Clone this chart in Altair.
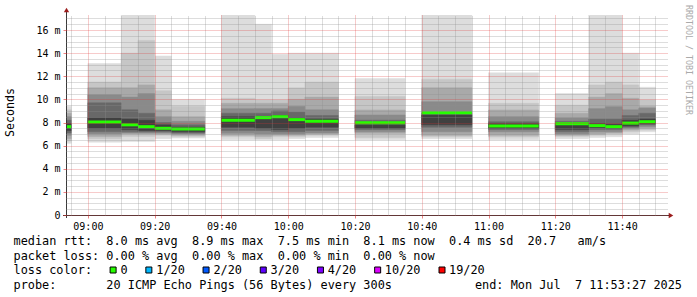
import altair as alt
import pandas as pd

# ---------------- data ----------------
seg_start = ["08:50", "09:00", "09:10", "09:15", "09:20", "09:25", "09:40", "09:50", "09:55", "10:00",
             "10:05", "10:20", "10:40", "11:00", "11:20", "11:30", "11:35", "11:40", "11:45"]
seg_end = ["08:55", "09:10", "09:15", "09:20", "09:25", "09:35", "09:50", "09:55", "10:00", "10:05",
           "10:15", "10:35", "10:55", "11:15", "11:30", "11:35", "11:40", "11:45", "11:50"]
median_ms = [7.64, 8.05, 7.8, 7.64, 7.5, 7.44, 8.2, 8.42, 8.5, 8.25,
             8.1, 7.97, 8.85, 7.7, 7.9, 7.73, 7.64, 7.95, 8.07]

# smoke bands (outermost first), low / high edge in ms
band1_lo = [6.2, 6.3, 6.35, 6.35, 6.6, 6.65, 6.5, 6.5, 6.5, 6.6, 6.7, 6.5, 6.6, 6.5, 6.6, 6.7, 6.77, 7.0, 7.2]
band1_hi = [9.4, 13.1, 17.3, 17.3, 13.75, 10.0, 17.3, 16.5, 13.9, 14.0, 14.0, 11.8, 17.3, 12.3, 10.5, 17.3, 17.3, 14.0, 11.05]
band2_lo = [6.4, 6.6, 6.8, 6.8, 6.9, 6.8, 6.77, 6.6, 6.77, 6.77, 6.9, 6.7, 6.77, 6.75, 6.8, 6.9, 7.0, 7.2, 7.35]
band2_hi = [9.1, 11.5, 14.0, 15.1, 10.75, 9.4, 10.1, 9.95, 9.95, 11.0, 11.5, 10.25, 11.75, 9.66, 9.5, 11.25, 11.5, 11.25, 9.95]
band3_lo = [6.6, 6.8, 7.0, 7.0, 7.0, 6.9, 6.9, 6.8, 6.9, 6.9, 7.0, 7.07, 6.9, 6.9, 6.9, 7.0, 7.1, 7.35, 7.5]
band3_hi = [8.8, 11.0, 11.0, 11.25, 9.1, 8.5, 9.66, 9.66, 9.66, 10.0, 10.2, 9.08, 11.0, 9.08, 8.8, 10.2, 10.5, 10.1, 9.37]
band4_lo = [6.9, 7.0, 7.1, 7.1, 7.1, 7.0, 7.07, 7.0, 7.0, 7.0, 7.1, 7.2, 7.2, 7.2, 7.0, 7.2, 7.2, 7.5, 7.64]
band4_hi = [8.5, 10.4, 10.2, 10.5, 8.5, 8.1, 9.2, 9.2, 9.2, 9.4, 9.1, 8.65, 9.8, 8.5, 8.4, 9.2, 9.37, 9.1, 9.25]
band5_lo = [7.1, 7.2, 7.2, 7.2, 7.2, 7.1, 7.3, 7.3, 7.2, 7.2, 7.3, 7.4, 7.6, 7.4, 7.2, 7.4, 7.4, 7.6, 7.8]
band5_hi = [8.2, 9.7, 9.1, 8.8, 8.0, 7.8, 8.8, 8.8, 9.0, 8.9, 8.6, 8.2, 8.8, 8.07, 8.1, 8.3, 8.3, 8.6, 8.8]
band6_lo = [7.3, 7.5, 7.4, 7.3, 7.3, 7.2, 7.6, 7.5, 7.4, 7.5, 7.6, 7.5, 7.8, 7.5, 7.4, 7.55, 7.5, 7.7, 7.9]
band6_hi = [7.9, 8.4, 8.3, 8.2, 7.8, 7.6, 8.5, 8.4, 8.6, 8.4, 8.3, 7.8, 8.65, 7.9, 7.9, 7.9, 7.85, 8.2, 8.3]
band_shades = ["#dddddd", "#c6c6c6", "#a9a9a9", "#8a8a8a", "#686868", "#404040"]

x_tick_labels = ["09:00", "09:20", "09:40", "10:00", "10:20", "10:40", "11:00", "11:20", "11:40"]
y_tick_values = [0, 2, 4, 6, 8, 10, 12, 14, 16]

legend_rtt = "median rtt:  8.0 ms avg  8.9 ms max  7.5 ms min  8.1 ms now  0.4 ms sd  20.7   am/s"
legend_loss = "packet loss: 0.00 % avg  0.00 % max  0.00 % min  0.00 % now"
loss_labels = ["0", "1/20", "2/20", "3/20", "4/20", "10/20", "19/20"]
loss_colors = ["#26ff00", "#00b8ff", "#0059ff", "#5e00ff", "#7e00ff", "#dd00ff", "#ff0000"]
legend_probe = "probe:       20 ICMP Echo Pings (56 Bytes) every 300s"
legend_end = "end: Mon Jul  7 11:53:27 2025"
y_title = "Seconds"
watermark = "RRDTOOL / TOBI OETIKER"

# ---------------- helpers ----------------
def tm(s):
    h, m = s.split(":")
    return int(h) * 60 + int(m)

t0 = 8 * 60 + 53 + 27 / 60.0
t1 = t0 + 180
W, H = 601, 200
LEFT, TOP = 66, 15
FONT = "DejaVu Sans Mono"
CW = 7.15          # monospace char advance for legend text
FS = CW / 0.602
X0 = 13.5 - LEFT   # legend text start (relative to plot)

def nb(s):
    return s.replace(" ", "\u00a0")

bands_lo = [band1_lo, band2_lo, band3_lo, band4_lo, band5_lo, band6_lo]
bands_hi = [band1_hi, band2_hi, band3_hi, band4_hi, band5_hi, band6_hi]
band_names = ["b1", "b2", "b3", "b4", "b5", "b6"]
rows = []
for k in range(6):
    for i in range(len(seg_start)):
        rows.append({"x": tm(seg_start[i]), "x2": tm(seg_end[i]),
                     "lo": bands_lo[k][i], "hi": bands_hi[k][i], "band": band_names[k]})
smoke_df = pd.DataFrame(rows)
med_df = pd.DataFrame({"x": [tm(s) for s in seg_start], "x2": [tm(s) for s in seg_end],
                       "med": median_ms})

xscale = alt.Scale(domain=[t0, t1], nice=False, zero=False)
yscale = alt.Scale(domain=[0, 17.3], nice=False, zero=False)

x_major = [tm(s) for s in x_tick_labels]
x_minor = [v for v in range(535, 715, 5) if v not in x_major]
y_minor = [v / 2 for v in range(1, 35) if v % 4 != 0]

major_col = "#e03030"
minor_col = "#8c8c8c"

label_expr_x = ("(floor(datum.value/60) < 10 ? '0' : '') + floor(datum.value/60) + ':' + "
                "(datum.value % 60 < 10 ? '0' : '') + (datum.value % 60)")

x_axis_major = alt.Axis(orient="bottom", values=x_major, labelExpr=label_expr_x, grid=True,
                        gridColor=major_col, gridOpacity=0.5, gridDash=[1, 1], gridWidth=1,
                        domain=False, ticks=True, tickColor=major_col, tickOpacity=0.6, tickSize=3,
                        labelFont=FONT, labelFontSize=10, labelColor="#000000", labelPadding=3,
                        title=None, zindex=1, labelFlush=False)
y_axis_major = alt.Axis(orient="left", values=y_tick_values,
                        labelExpr="datum.value == 0 ? '0' : datum.value + ' m'", grid=True,
                        gridColor=major_col, gridOpacity=0.5, gridDash=[1, 1], gridWidth=1,
                        domain=False, ticks=True, tickColor=major_col, tickOpacity=0.6, tickSize=3,
                        labelFont=FONT, labelFontSize=10, labelColor="#000000", labelPadding=3,
                        title=None, zindex=1, labelFlush=False)
x_axis_minor = alt.Axis(orient="top", values=x_minor, grid=True, gridColor=minor_col,
                        gridOpacity=0.6, gridDash=[1, 1], gridWidth=1, labels=False, ticks=False,
                        domain=False, title=None, zindex=1)
y_axis_minor = alt.Axis(orient="right", values=y_minor, grid=True, gridColor=minor_col,
                        gridOpacity=0.6, gridDash=[1, 1], gridWidth=1, labels=False, ticks=False,
                        domain=False, title=None, zindex=1)

smoke = alt.Chart(smoke_df).mark_rect(clip=True, strokeWidth=0.5).encode(
    x=alt.X("x:Q", scale=xscale, axis=x_axis_major),
    x2="x2:Q",
    y=alt.Y("lo:Q", scale=yscale, axis=y_axis_major),
    y2="hi:Q",
    color=alt.Color("band:N", scale=alt.Scale(domain=band_names, range=band_shades), legend=None),
    stroke=alt.Stroke("band:N", scale=alt.Scale(domain=band_names, range=band_shades), legend=None),
)

minor = alt.Chart(med_df).mark_point(opacity=0).encode(
    x=alt.X("x:Q", scale=xscale, axis=x_axis_minor),
    y=alt.Y("med:Q", scale=yscale, axis=y_axis_minor),
)

median = alt.Chart(med_df).mark_rule(clip=True, strokeWidth=3, color="#26ff00").encode(
    x=alt.X("x:Q", scale=xscale, axis=None),
    x2="x2:Q",
    y=alt.Y("med:Q", scale=yscale, axis=None),
)

one = pd.DataFrame({"a": [0]})
axis_col = "#3a3a3a"
arrow_col = "#9b1c1c"
x_line = alt.Chart(one).mark_rule(color=axis_col, strokeWidth=1).encode(
    x=alt.value(-3), x2=alt.value(W + 2), y=alt.value(H + 0.5))
y_line = alt.Chart(one).mark_rule(color=axis_col, strokeWidth=1).encode(
    x=alt.value(0.5), y=alt.value(H + 3), y2=alt.value(-4))
arrow_up = alt.Chart(one).mark_point(shape="triangle-up", filled=True, color=arrow_col, size=28,
                                     opacity=1).encode(x=alt.value(0.5), y=alt.value(-5))
arrow_right = alt.Chart(one).mark_point(shape="triangle-right", filled=True, color=arrow_col, size=28,
                                        opacity=1).encode(x=alt.value(W + 4), y=alt.value(H + 0.5))

def text_layer(txt, x, y, align="left", size=FS, color="#000000", angle=0, baseline="alphabetic"):
    kw = dict(align=align, baseline=baseline, font=FONT, fontSize=size, color=color)
    if angle:
        kw["angle"] = angle
    return alt.Chart(one).mark_text(**kw).encode(
        x=alt.value(x), y=alt.value(y), text=alt.value(nb(txt)))

line_y = [230, 244.5, 259, 273.5]
layers = [smoke, median, minor, x_line, y_line, arrow_up, arrow_right]
layers.append(text_layer(legend_rtt, X0, line_y[0]))
layers.append(text_layer(legend_loss, X0, line_y[1]))

# loss colour legend line: boxes take two character cells
loss_text = "loss color:  "
box_cols = []
for lab in loss_labels:
    box_cols.append(len(loss_text))
    loss_text += "  " + lab + "  "
layers.append(text_layer(loss_text.rstrip(), X0, line_y[2]))
for col, c in zip(box_cols, loss_colors):
    layers.append(alt.Chart(one).mark_square(size=36, filled=True, color=c, stroke="#000000",
                                             strokeWidth=1, opacity=1).encode(
        x=alt.value(X0 + (col + 1) * CW - 0.5), y=alt.value(line_y[2] - 4)))

layers.append(text_layer(legend_probe, X0, line_y[3]))
layers.append(text_layer(legend_end, 682 - LEFT, line_y[3], align="right"))
layers.append(text_layer(y_title, 10.8 - LEFT, 97.5, align="center", angle=270, baseline="middle",
                         size=11.6))
layers.append(text_layer(watermark, 687.5 - LEFT, 45, align="center", angle=90, baseline="middle",
                         size=8.3, color="#aaaaaa"))

chart = alt.layer(*layers).resolve_axis(x="independent", y="independent").properties(
    width=W, height=H, autosize=alt.AutoSizeParams(type="none"),
    padding={"left": LEFT, "top": TOP, "right": 697 - LEFT - W, "bottom": 297 - TOP - H},
    background="#ffffff",
).configure_view(stroke=None)

chart.save("out.html", embed_options={"renderer": "svg", "actions": False})
